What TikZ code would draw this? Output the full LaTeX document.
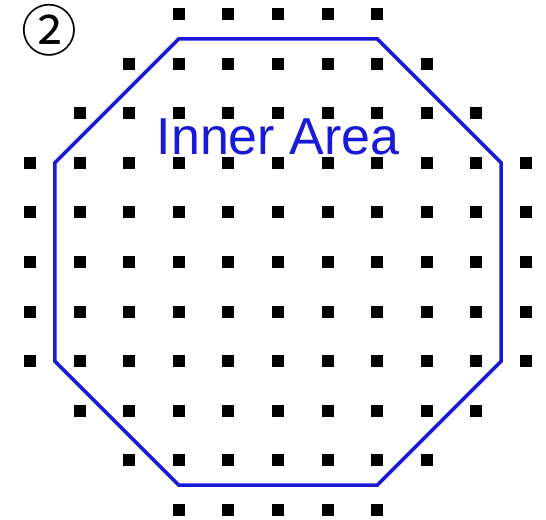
\documentclass[tikz,border=0pt]{standalone}
\usepackage{fontspec}
\setmainfont{Liberation Sans}
\newfontfamily\circfont{Noto Sans CJK JP}
\definecolor{areablue}{RGB}{25,25,215}

\begin{document}
\begin{tikzpicture}[
  x=1cm, y=1cm,
  pin/.style={rectangle, fill=black, draw=none, minimum size=0.245cm, inner sep=0pt},
  area/.style={draw=areablue, line width=2pt, line join=miter},
  alab/.style={text=areablue, font=\fontsize{29.8}{30}\selectfont, inner sep=0pt, anchor=base},
  tag/.style={font=\circfont\fontsize{32}{32}\selectfont, inner sep=0pt},
]
% --- frame ---
\useasboundingbox (-0.605,0.282) rectangle (10.403,-10.182);
% --- grid of pins (row / first col / last col) ---
\foreach \r/\a/\b in {0/3/7, 1/2/8, 2/1/9, 3/0/10, 4/0/10, 5/0/10,
                      6/0/10, 7/0/10, 8/1/9, 9/2/8, 10/3/7} {
  \foreach \c in {\a,...,\b}
    \node[pin] (p-\r-\c) at (\c,-\r) {};
}
% --- inner area outline ---
\draw[area] (3,-0.5) -- (7,-0.5) -- (9.5,-3) -- (9.5,-7)
  -- (7,-9.5) -- (3,-9.5) -- (0.5,-7) -- (0.5,-3) -- cycle;
\node[alab] (lab) at (5,-2.84) {Inner Area};
% --- step number ---
\node[tag] (num) at (0.40,-0.33) {②};
\end{tikzpicture}
\end{document}
